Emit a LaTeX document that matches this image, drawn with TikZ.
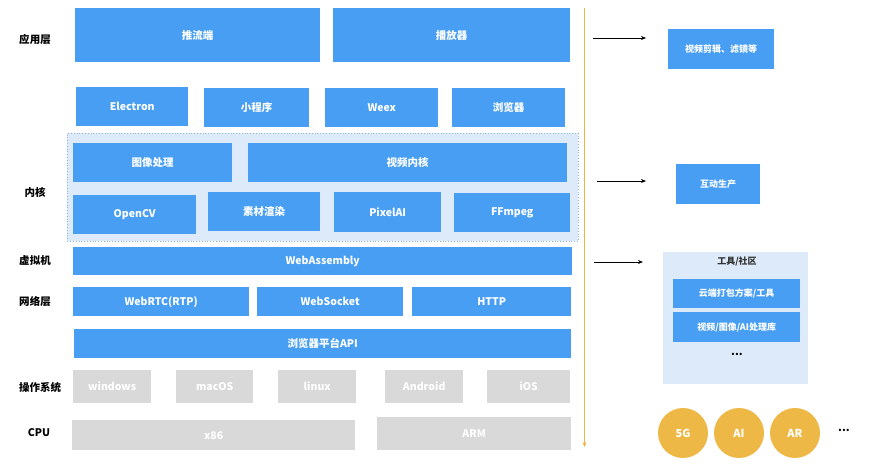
\documentclass[tikz,border=0pt]{standalone}
\usepackage{fontspec}
\setmainfont{Noto Sans CJK SC}
\usetikzlibrary{arrows.meta}
\definecolor{bblue}{HTML}{479EF3}
\definecolor{lblue}{HTML}{DCEAFA}
\definecolor{dblue}{HTML}{8DB6E2}
\definecolor{gbox}{HTML}{D9D9D9}
\definecolor{gold}{HTML}{EDB845}
\definecolor{oline}{HTML}{F0B540}
\tikzset{
  bluebox/.style={fill=bblue, text=white, font=\bfseries\fontsize{10.5}{12}\selectfont, inner sep=0pt},
  smallblue/.style={bluebox, font=\bfseries\fontsize{9}{10}\selectfont},
  graybox/.style={fill=gbox, text=white, font=\bfseries\fontsize{10.5}{12}\selectfont, inner sep=0pt},
  layerlbl/.style={font=\bfseries\fontsize{10.5}{12}\selectfont, text=black},
  container/.style={fill=lblue, inner sep=0pt},
  arr/.style={-{Stealth[length=5pt,width=4pt]}, line width=0.9pt, black},
  circ/.style={circle, fill=gold, text=white, minimum size=50pt, inner sep=0pt, font=\bfseries\fontsize{11}{12}\selectfont},
  dotslbl/.style={font=\bfseries\fontsize{11}{12}\selectfont, text=black},
}
\newcommand\mkbox[7]{\node[#1, anchor=north west, minimum width={#4-#2}, minimum height={#5-#3}] (#6) at (#2,#3) {#7};}
\begin{document}
\begin{tikzpicture}[x=1pt,y=-1pt]
\useasboundingbox (0,0) rectangle (869,469);
% containers
\mkbox{container, draw=dblue, dotted, line width=0.8pt}{67}{133}{578}{241}{core}{}
\mkbox{container}{663}{252}{808}{384}{tools}{}
% layer labels
\node[layerlbl] (l1) at (35,39) {应用层};
\node[layerlbl] (l2) at (35,192) {内核};
\node[layerlbl] (l3) at (35,261) {虚拟机};
\node[layerlbl] (l4) at (35,301) {网络层};
\node[layerlbl] (l5) at (40,387) {操作系统};
\node[layerlbl] (l6) at (39,433) {CPU};
% application layer
\mkbox{bluebox}{75}{8}{320}{62}{push}{推流端}
\mkbox{bluebox}{333}{8}{570}{62}{player}{播放器}
\mkbox{bluebox}{76}{87}{188}{126}{electron}{Electron}
\mkbox{bluebox}{204}{88}{309}{127}{mini}{小程序}
\mkbox{bluebox}{325}{88}{438}{127}{weex}{Weex}
\mkbox{bluebox}{452}{88}{565}{127}{browser}{浏览器}
% core
\mkbox{bluebox}{73}{143}{232}{182}{img}{图像处理}
\mkbox{bluebox}{248}{143}{567}{182}{vcore}{视频内核}
\mkbox{bluebox}{73}{195}{196}{234}{opencv}{OpenCV}
\mkbox{bluebox}{208}{192}{320}{231}{render}{素材渲染}
\mkbox{bluebox}{334}{192}{441}{232}{pixelai}{PixelAI}
\mkbox{bluebox}{454}{193}{570}{232}{ffmpeg}{FFmpeg}
% vm / network / api
\mkbox{bluebox}{73}{247}{572}{275}{wasm}{WebAssembly}
\mkbox{bluebox}{73}{287}{249}{316}{webrtc}{WebRTC(RTP)}
\mkbox{bluebox}{257}{287}{403}{316}{websocket}{WebSocket}
\mkbox{bluebox}{412}{287}{571}{316}{http}{HTTP}
\mkbox{bluebox}{74}{329}{571}{358}{api}{浏览器平台API}
% OS
\mkbox{graybox}{73}{370}{151}{403}{win}{windows}
\mkbox{graybox}{176}{370}{253}{403}{mac}{macOS}
\mkbox{graybox}{278}{370}{356}{403}{linux}{linux}
\mkbox{graybox}{385}{370}{463}{403}{android}{Android}
\mkbox{graybox}{487}{370}{570}{403}{ios}{iOS}
% CPU
\mkbox{graybox}{72}{420}{355}{450}{x86}{x86}
\mkbox{graybox}{377}{417}{571}{450}{arm}{ARM}
% orange line
\coordinate (otop) at (584.5,8);
\coordinate (obot) at (584.5,447);
\draw[oline, line width=0.9pt, -{Stealth[length=5pt,width=4pt]}] (otop) -- (obot);
% arrows
\coordinate (a1s) at (593,38); \coordinate (a1e) at (646,38);
\coordinate (a2s) at (597,181); \coordinate (a2e) at (646,181);
\coordinate (a3s) at (594,262); \coordinate (a3e) at (643,262);
\draw[arr] (a1s) -- (a1e);
\draw[arr] (a2s) -- (a2e);
\draw[arr] (a3s) -- (a3e);
% right side
\mkbox{smallblue}{668}{29}{774}{69}{edit}{视频剪辑、滤镜等}
\mkbox{smallblue}{676}{164}{760}{204}{interact}{互动生产}
\node[font=\bfseries\fontsize{9}{10}\selectfont, text=black!80] (toolslbl) at (737,261) {工具/社区};
\mkbox{smallblue}{673}{279}{800}{308}{cloud}{云端打包方案/工具}
\mkbox{smallblue}{673}{312}{800}{342}{lib}{视频/图像/AI处理库}
\node[dotslbl] (tdots) at (737,354) {...};
\node[circ] (c5g) at (683,433) {5G};
\node[circ] (cai) at (739,433) {AI};
\node[circ] (car) at (795,433) {AR};
\node[dotslbl] (cdots) at (844,430) {...};
\end{tikzpicture}
\end{document}
